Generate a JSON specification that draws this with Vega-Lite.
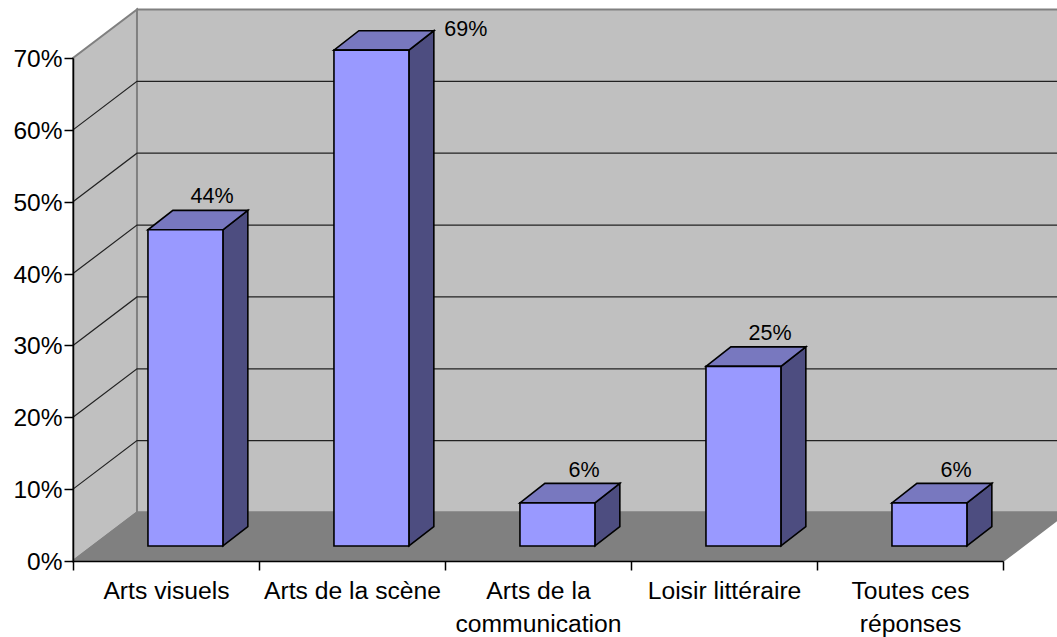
{
"$schema":"https://vega.github.io/schema/vega-lite/v6.json",
"width":930,"height":503,
"autosize":{"type":"none"},
"padding":{"left":73,"top":58,"right":54,"bottom":76},
"background":"white",
"config":{"view":{"stroke":null},"font":"Liberation Sans"},
"datasets":{
 "bars":[
  {"category":"Arts visuels","share":0.44},
  {"category":"Arts de la scène","share":0.69},
  {"category":"Arts de la communication","share":0.06},
  {"category":"Loisir littéraire","share":0.25},
  {"category":"Toutes ces réponses","share":0.06}],
 "walls":[{"wall":"side"},{"wall":"back"},{"wall":"floor"}],
 "levels":[{"level":0.1},{"level":0.2},{"level":0.3},{"level":0.4},{"level":0.5},{"level":0.6}]
},
"layer":[
 {
 "encoding":{
  "x":{"field":"px","type":"quantitative","scale":{"domain":[0,5],"nice":false,"zero":false},"axis":null},
  "y":{"field":"lo","type":"quantitative","scale":{"domain":[0,0.7],"nice":false},
   "axis":{"title":null,"values":[0,0.1,0.2,0.3,0.4,0.5,0.6,0.7],"format":".0%","grid":false,"tickSize":9,"tickColor":"#000000","domainColor":"#000000","domainWidth":1.5,"tickWidth":1.5,"labelFontSize":24.5,"labelColor":"#000000","labelPadding":2,"labelOffset":1.5,"labelFont":"Liberation Sans","zindex":1}}
 },
 "layer":[
  {"data":{"name":"walls"},
   "transform":[
    {"calculate":"datum.wall=='side'?[0,0.344]:datum.wall=='back'?[0.344,5.344]:[0,0.344,5,5.344]","as":"xs"},
    {"calculate":"datum.wall=='side'?[0,0.0675]:datum.wall=='back'?[0.0675,0.0675]:[0,0,0,0.0675]","as":"los"},
    {"calculate":"datum.wall=='side'?[0.7,0.7675]:datum.wall=='back'?[0.7675,0.7675]:[0,0.0675,0.0675,0.0675]","as":"his"},
    {"flatten":["xs","los","his"],"as":["px","lo","hi"]}],
   "mark":{"type":"area","stroke":"#808080","strokeWidth":2,"opacity":1},
   "encoding":{"y2":{"field":"hi"},"detail":{"field":"wall"},
    "color":{"field":"wall","type":"nominal","legend":null,"scale":{"domain":["side","back","floor"],"range":["#C0C0C0","#C0C0C0","#808080"]}}}},
  {"data":{"name":"levels"},
   "transform":[
    {"calculate":"[0,0.344,5.344]","as":"xs"},
    {"calculate":"[datum.level,datum.level+0.0675,datum.level+0.0675]","as":"los"},
    {"flatten":["xs","los"],"as":["px","lo"]}],
   "mark":{"type":"line","color":"#222222","strokeWidth":1.2},
   "encoding":{"detail":{"field":"level"}}},
  {"data":{"name":"bars"},
   "transform":[
    {"window":[{"op":"row_number","as":"n"}]},
    {"calculate":"datum.n-1+0.403","as":"l"},
    {"calculate":"datum.l+0.403","as":"r"},
    {"calculate":"[datum.r,datum.r+0.134]","as":"xs"},
    {"calculate":"[0.0209,0.048]","as":"los"},
    {"calculate":"[0.0209+datum.share,0.048+datum.share]","as":"his"},
    {"flatten":["xs","los","his"],"as":["px","lo","hi"]}],
   "mark":{"type":"area","fill":"#4D4D80","stroke":"#000000","strokeWidth":1.6,"opacity":1},
   "encoding":{"y2":{"field":"hi"},"detail":{"field":"category"}}},
  {"data":{"name":"bars"},
   "transform":[
    {"window":[{"op":"row_number","as":"n"}]},
    {"calculate":"datum.n-1+0.403","as":"l"},
    {"calculate":"datum.l+0.403","as":"r"},
    {"calculate":"datum.share+0.0209","as":"t"},
    {"calculate":"[datum.l,datum.l+0.134,datum.r,datum.r+0.134]","as":"xs"},
    {"calculate":"[datum.t,datum.t,datum.t,datum.t+0.0271]","as":"los"},
    {"calculate":"[datum.t,datum.t+0.0271,datum.t+0.0271,datum.t+0.0271]","as":"his"},
    {"flatten":["xs","los","his"],"as":["px","lo","hi"]}],
   "mark":{"type":"area","fill":"#7878BF","stroke":"#000000","strokeWidth":1.6,"opacity":1},
   "encoding":{"y2":{"field":"hi"},"detail":{"field":"category"}}},
  {"data":{"name":"bars"},
   "transform":[
    {"window":[{"op":"row_number","as":"n"}]},
    {"calculate":"datum.n-1+0.403","as":"l"},
    {"calculate":"datum.l+0.403","as":"r"},
    {"calculate":"[datum.l,datum.r]","as":"xs"},
    {"calculate":"[0.0209,0.0209]","as":"los"},
    {"calculate":"[0.0209+datum.share,0.0209+datum.share]","as":"his"},
    {"flatten":["xs","los","his"],"as":["px","lo","hi"]}],
   "mark":{"type":"area","fill":"#9999FF","stroke":"#000000","strokeWidth":1.6,"opacity":1},
   "encoding":{"y2":{"field":"hi"},"detail":{"field":"category"}}},
  {"data":{"name":"bars"},
   "transform":[
    {"window":[{"op":"row_number","as":"n"}]},
    {"calculate":"datum.n-1+(datum.share==0.69?1.112:0.748)","as":"px"},
    {"calculate":"datum.share+0.0209+(datum.share==0.69?0.028:0.045)","as":"lo"}],
   "mark":{"type":"text","fontSize":21.5,"color":"#000000","baseline":"middle","align":"center"},
   "encoding":{"text":{"field":"share","type":"quantitative","format":".0%"}}}
 ]},
 {"data":{"name":"bars"},
  "mark":{"type":"point","opacity":0},
  "encoding":{
   "x":{"field":"category","type":"nominal","sort":null,"scale":{"type":"band","paddingInner":0,"paddingOuter":0},
    "axis":{"title":null,"orient":"bottom","tickBand":"extent","labelAngle":0,"tickSize":9,"tickColor":"#000000","domainColor":"#000000","domainWidth":1.5,"tickWidth":1.5,"labelFontSize":24.7,"labelColor":"#000000","labelPadding":8,"labelLineHeight":33,"labelLimit":0,"labelFont":"Liberation Sans","zindex":1,
     "labelExpr":"datum.label=='Arts de la communication'?['Arts de la','communication']:datum.label=='Toutes ces réponses'?['Toutes ces','réponses']:datum.label"}}
  }}
],
"resolve":{"scale":{"x":"independent"},"axis":{"x":"independent"}}
}
